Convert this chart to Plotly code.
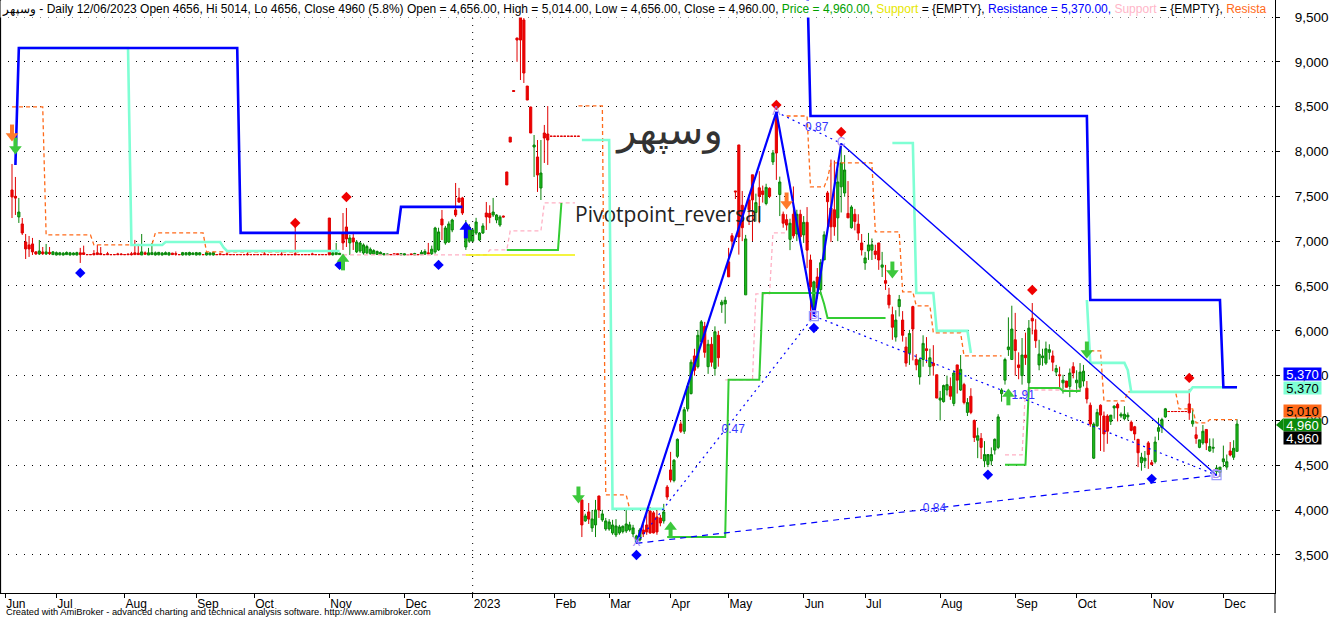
import plotly.graph_objects as go

SYMBOL = "وسپهر"
DATE = "12/06/2023"
STRATEGY = "Pivotpoint_reversal"

# ---------------- OHLC bars (open, high, low, close), one tuple per trading bar ----------------
bars_jun_2022 = [
    (7571,7861,7258,7493),(7500,7716,7292,7480),(7270,7482,7203,7325),(7192,7258,7069,7091),
    (6991,7080,6801,6913),(6958,7058,6824,6913),(6969,7036,6846,6880),(6880,6890,6846,6858),
    (6857,7013,6846,6890),(6880,6935,6846,6860),(6857,6969,6846,6880),(6875,6935,6846,6860),
    (6850,6890,6846,6880),
]
bars_jul_nov_2022 = [
    (6846,6885,6840,6872),(6848,6880,6842,6870),(6846,6878,6840,6866),(6850,6885,6846,6874),
    (6846,6880,6840,6870),(6848,6875,6842,6868),(6846,6882,6840,6872),(6870,6925,6757,6850),
    (6870,6950,6846,6852),(6850,6850,6850,6850),(6850,6850,6850,6850),(6862,6900,6840,6850),
    (6870,6960,6846,6850),(6862,6935,6846,6850),(6850,6850,6850,6850),(6860,6880,6846,6850),
    (6850,6850,6850,6850),(6850,6850,6850,6850),(6858,6870,6846,6850),(6856,6866,6846,6850),
    (6850,6850,6850,6850),(6856,6862,6846,6850),(6860,6880,6840,6850),(6870,7014,6846,6850),
    (6866,6970,6846,6850),(6846,7080,6846,6880),(6870,6885,6846,6855),(6846,6925,6846,6870),
    (6850,6980,6846,6872),(6846,6885,6840,6870),(6848,6880,6842,6875),(6846,6878,6840,6868),
    (6850,6885,6846,6872),(6846,6880,6840,6870),(6866,6870,6846,6850),(6860,6885,6838,6855),
    (6850,6850,6850,6850),(6846,6880,6840,6872),(6848,6878,6842,6870),(6846,6882,6840,6874),
    (6850,6876,6846,6868),(6846,6880,6840,6872),(6848,6878,6842,6870),(6850,6850,6850,6850),
    (6846,6880,6840,6872),(6848,6876,6842,6868),(6846,6882,6840,6874),(6850,6850,6850,6850),
    (6858,6866,6846,6850),(6850,6850,6850,6850),(6858,6870,6846,6850),(6850,6850,6850,6850),
    (6850,6850,6850,6850),(6850,6850,6850,6850),(6850,6850,6850,6850),(6850,6850,6850,6850),
    (6856,6875,6840,6850),(6850,6850,6850,6850),(6850,6850,6850,6850),(6850,6850,6850,6850),
    (6850,6850,6850,6850),(6858,6880,6846,6850),(6850,6850,6850,6850),(6850,6850,6850,6850),
    (6850,6850,6850,6850),(6850,6850,6850,6850),(6856,6878,6840,6850),(6850,6850,6850,6850),
    (6850,6850,6850,6850),(6850,6850,6850,6850),(6860,7180,6846,6848),(6850,6850,6850,6850),
    (6850,6850,6850,6850),(6850,6850,6850,6850),(6850,6850,6850,6850),(6858,6872,6846,6850),
    (6850,6850,6850,6850),(6850,6850,6850,6850),(6850,6850,6850,6850),(6850,6850,6850,6850),
]
bars_nov_dec_2022 = [
    (7258,7258,6846,6847),(6847,6880,6840,6870),(6850,6980,6846,6875),(6850,6870,6846,6865),
    (7092,7314,6902,6980),(7158,7370,6935,7025),(6980,7070,6846,7036),(7036,7103,6902,6991),
    (6880,7013,6868,6991),(6890,6990,6870,6980),(6868,6975,6850,6958),(6870,6960,6855,6940),
    (6860,6930,6850,6910),(6855,6910,6846,6895),(6852,6895,6846,6885),(6850,6885,6846,6875),
    (6847,6865,6845,6860),(6850,6860,6846,6855),(6850,6850,6850,6850),(6860,6860,6850,6850),
    (6860,6860,6850,6850),(6846,6862,6846,6860),(6846,6862,6846,6858),(6850,6850,6850,6850),
    (6858,6860,6846,6850),(6846,6870,6846,6862),(6850,6850,6850,6850),(6850,6900,6846,6875),
    (6855,6910,6850,6885),(6870,6980,6850,6860),(6860,6950,6846,6910),
]
bars_dec_2022_jan_2023 = [
    (6880,7160,6860,7147),(6902,7150,6890,7103),(7247,7348,7013,7180),(6980,7170,6960,7147),
    (6991,7220,6980,7192),(7125,7250,7100,7236),(7348,7649,7270,7292),(7482,7594,7426,7437),
    (7482,7494,7292,7314),(6935,7236,6902,7192),(7000,7190,6980,7158),(7000,7140,6990,7125),
    (7091,7260,7070,7214),(7013,7100,7000,7091),(7091,7200,7080,7170),(7314,7437,7125,7270),
    (7310,7400,7200,7265),(7292,7482,7270,7325),(7236,7300,7200,7292),(7180,7290,7160,7270),
    (7280,7285,7265,7270),(7772,7772,7627,7627),(8160,8160,8105,8105),(8680,8680,8670,8670),
    (9266,9266,9000,9243),(9500,9522,8797,9243),(9467,9489,8764,8875),(8730,8730,8574,8574),
    (8496,8500,8206,8206),(8050,8184,7716,8072),(7939,8128,7549,7738),(7593,8128,7459,7760),
    (8206,8296,7872,8150),(8195,8507,7850,8128),
]
bars_feb_2023_halt = [
    (8170,8170,8170,8170),(8170,8170,8170,8170),(8170,8170,8170,8170),(8170,8170,8170,8170),
    (8170,8170,8170,8170),(8170,8170,8170,8170),(8170,8170,8170,8170),(8170,8170,8170,8170),
    (8170,8170,8170,8170),
]
bars_feb_mar_2023 = [
    (4114,4114,3700,3835),(3880,3960,3870,3935),(3980,4080,3846,3900),(3802,4002,3757,3902),
    (3835,4114,3700,4002),(4158,4160,3913,4002),(3891,4003,3870,3958),(3790,3913,3770,3880),
    (3790,3900,3770,3868),(3746,3892,3725,3835),(3724,3900,3700,3824),(3746,3836,3725,3813),
    (3760,3830,3740,3820),(3768,4003,3746,3846),(3780,3870,3760,3836),(3735,3836,3700,3802),
    (3640,3725,3630,3713),(3667,3800,3650,3779),(3779,3846,3700,3735),(3835,4003,3725,3757),
    (3990,4035,3735,3746),(3970,3990,3740,3746),(3924,4003,3725,3757),(3913,3948,3820,3857),
    (3880,4070,3850,3980),(4258,4280,4115,4147),(4448,4650,4310,4337),
]
bars_apr_may_2023 = [
    (4330,4570,4310,4556),(4600,4800,4580,4790),(4960,4990,4860,4880),(4880,5150,4850,5120),
    (5130,5420,5100,5380),(5300,5680,5290,5650),(5720,5800,5500,5560),(5600,6010,5580,5950),
    (5880,6120,5860,6100),(6050,6100,5700,5760),(5600,5900,5520,5850),(5850,5930,5600,5650),
    (5580,6050,5500,5990),(5950,6000,5600,5700),
    (6290,6345,6200,6320),(6300,6380,6080,6340),(6769,6925,6602,6602),(7060,7090,6900,7000),
    (7560,7560,7470,7550),(8073,8073,6850,7047),(7400,7560,7000,7150),(6401,7070,6401,7025),
    (7460,7520,7180,7350),(7740,7740,7000,7460),(7320,7530,7220,7430),(7595,7780,7200,7500),
    (7560,7620,7430,7520),(7420,7640,7400,7600),(7590,7600,7480,7500),(7884,8017,7850,7984),
    (8385,8440,7683,7983),(7520,7720,7280,7660),(7300,7330,7150,7200),(7240,7300,7120,7180),
    (7020,7250,6900,7200),(7300,7610,7030,7060),(7080,7350,7000,7300),
]
bars_jun_2023 = [
    (7300,7350,6990,7050),(7070,7280,6980,7210),(7210,7380,6700,6900),(6790,6850,6120,6490),
    (6233,6560,6165,6546),(6600,6700,6360,6480),(6460,6800,6400,6760),(6791,7110,6790,7070),
    (7538,7560,7160,7440),(7370,7910,6990,7160),(7350,7900,7060,7160),(7260,7800,7000,7660),
    (7606,8090,7320,7873),(7537,7960,7495,7794),(7310,7670,7260,7260),(7150,7400,7140,7380),
    (7300,7360,7120,7220),(7190,7300,7010,7090),
]
bars_jul_oct_2023 = [
    (6980,7080,6840,6902),(6756,6880,6680,6813),(6891,7092,6791,6958),(6900,7030,6790,6960),
    (6890,6960,6800,6850),(6980,6980,6680,6790),(6710,6880,6600,6735),(6560,6735,6456,6530),
    (6400,6480,6250,6290),(6180,6270,5900,6040),(5930,6230,5880,6120),(6270,6400,6160,6350),
    (6120,6220,5880,5950),(5820,5930,5600,5640),(5750,6010,5620,5970),(6270,6280,5670,6020),
    (5680,5740,5560,5620),(5486,5700,5400,5676),(5680,5950,5600,5860),(5800,5930,5640,5780),
    (5600,5800,5500,5700),(5640,5840,5500,5610),(5510,5510,5250,5250),(5228,5330,5000,5250),
    (5210,5400,5200,5390),(5340,5500,5280,5400),(5380,5480,5230,5270),(5190,5560,5160,5530),
    (5620,5620,5300,5450),(5340,5730,5330,5570),(5400,5420,5180,5200),(5090,5250,5050,5200),
    (5270,5360,5070,5090),(5000,5010,4760,4810),(4780,4920,4580,4830),(4800,4860,4570,4700),
    (4550,4770,4480,4620),(4510,4590,4480,4620),(4550,4700,4500,4620),(4670,4800,4620,4790),
    (4700,5070,4680,5040),(5300,5360,5210,5340),(5450,5700,5400,5680),(5790,6150,5720,5820),
    (5680,6280,5680,6020),(5900,6200,5500,5780),(5620,5760,5460,5590),(5500,5920,5400,5730),
    (5730,5980,5620,5700),(5420,6120,5350,6030),(6140,6310,5960,6110),(6010,6130,5810,5890),
    (5620,5900,5560,5740),(5700,5800,5610,5720),(5640,5880,5620,5800),(5760,5850,5680,5790),
    (5720,5780,5550,5650),(5540,5620,5500,5580),(5510,5600,5370,5500),(5420,5510,5300,5450),
    (5440,5440,5370,5370),(5380,5580,5260,5530),(5600,5650,5470,5530),(5420,5560,5310,5450),
    (5370,5640,5320,5540),
]
bars_oct_dec_2023 = [
    (5440,5620,5380,5550),(5360,5440,5190,5240),(5170,5200,4930,4960),(4580,4980,4570,4960),
    (4940,5130,4930,5090),(5170,5180,4660,5060),(5050,5100,4650,4850),(5050,5070,4740,4880),
    (4990,5060,4950,5060),(5140,5170,5020,5160),(5180,5200,4990,5140),(5050,5090,5030,5070),
    (5020,5160,5000,5070),(5040,5090,5000,5060),(4980,5000,4880,4890),(4930,4940,4780,4850),
    (4790,4790,4480,4640),(4530,4640,4440,4590),(4550,4660,4470,4580),(4750,4770,4460,4620),
    (4530,4560,4500,4510),(4540,4820,4520,4760),(4880,5030,4780,4920),(4920,5030,4860,5010),
    (5040,5140,5030,5130),(5100,5100,5100,5100),(5100,5100,5100,5100),(5100,5100,5100,5100),
    (5100,5100,5100,5100),(5100,5100,5100,5100),(5100,5100,5100,5100),(5185,5352,5007,5085),
    (4963,5118,4930,4996),(4840,4930,4740,4800),(4700,4784,4690,4784),(4750,4950,4730,4880),
    (4900,4900,4670,4750),(4660,4800,4650,4710),(4690,4800,4640,4700),(4430,4500,4390,4470),
    (4420,4480,4370,4480),(4540,4720,4480,4572),(4480,4620,4450,4540),(4660,4760,4600,4615),
    (4590,4780,4560,4690),(4656,5014,4656,4960),
]

# ---------------- axis labels ----------------
month_first_bar = [-2, 13, 33, 54, 71, 93, 115, 135, 159, 175, 193, 210, 232, 250, 272, 294, 312, 334, 355]
month_labels = ["Jun","Jul","Aug","Sep","Oct","Nov","Dec","2023","Feb","Mar","Apr","May",
                "Jun","Jul","Aug","Sep","Oct","Nov","Dec"]
price_ticks = [3500, 4000, 4500, 5000, 5500, 6000, 6500, 7000, 7500, 8000, 8500, 9000, 9500]

# ---------------- indicator lines: (first bar, last bar, level) ----------------
resistance_blue = [(1,1,7850),(2,66,9155),(67,113,7092),(114,132,7382),(233,233,10000),
                   (234,315,8396),(316,354,6344),(355,359,5370)]
resistance_aqua = [(2,34,9155),(35,44,6958),(45,61,6991),(62,62,6930),(63,96,6891),
                   (167,175,8129),(176,191,4014),(258,264,8095),(265,270,6422),(271,280,5999),
                   (281,281,5753),(315,315,6344),(316,326,5642),(327,327,5560),(328,345,5319),
                   (346,359,5370)]
resistance_orange = [(0,9,8497),(10,23,7069),(24,41,6958),(42,56,7092),(57,84,6880),
                     (166,173,8508),(174,180,4170),(181,191,4014),(227,233,8396),(234,238,7605),
                     (239,239,7700),(240,252,7872),(253,260,7103),(261,264,6434),(265,269,6278),
                     (270,278,5977),(279,290,5720),(316,319,5776),(320,326,5218),(327,341,5319),
                     (342,346,5129),(347,350,4973),(351,359,5010)]
support_pink = [(97,139,6846),(140,145,6902),(146,155,7114),(156,165,7426),(209,217,5453),
                (218,222,6411),(223,227,7092),(291,296,4616),(297,313,5340)]
support_yellow = [(133,165,6846)]
support_green = [(145,160,6902),(161,161,7426),(192,209,3701),(210,219,5453),(220,237,6422),
                 (238,238,6300),(239,256,6144),(291,297,4505),(298,307,5363),(308,313,5330)]

# ---------------- harmonic pattern (bar, price) ----------------
pattern_names = ["X", "A", "B", "C", "D"]
pattern_bars = [183, 224, 235, 243, 353]
pattern_vals = [3630, 8440, 6165, 8090, 4390]
pattern_ratios = [("X", "B", "0.47"), ("A", "C", "0.87"), ("B", "D", "1.91"), ("X", "D", "0.84")]

# ---------------- signals ----------------
swing_high_bars = [83, 98, 224, 243, 299, 345]
swing_high_vals = [7203, 7493, 8519, 8218, 6456, 5475]
swing_low_bars = [20, 96, 125, 183, 235, 286, 334]
swing_low_vals = [6646, 6735, 6735, 3500, 6032, 4394, 4349]
buy_green_bars, buy_green_vals = [97, 193, 292], [6768, 3780, 5263]
buy_blue_bars, buy_blue_vals = [133], [7125]
sell_green_bars, sell_green_vals = [1, 166, 258, 315], [8062, 4170, 6679, 5787]
sell_orange_bars, sell_orange_vals = [0, 227], [8207, 7449]

# ======================================================================
bars = (bars_jun_2022 + bars_jul_nov_2022 + bars_nov_dec_2022 + bars_dec_2022_jan_2023 +
        bars_feb_2023_halt + bars_feb_mar_2023 + bars_apr_may_2023 + bars_jun_2023 +
        bars_jul_oct_2023 + bars_oct_dec_2023)
opens = [b[0] for b in bars]
highs = [b[1] for b in bars]
lows = [b[2] for b in bars]
closes = [b[3] for b in bars]
n = len(bars)
idx = list(range(n))

W, H = 1336, 619
PLOT_W, PLOT_H = 1275, 593
XR = [-3.52, 370.13]
YR = [3076.0, 9689.6]
UPP = (YR[1] - YR[0]) / PLOT_H   # price units per pixel
BPP = (XR[1] - XR[0]) / PLOT_W   # bars per pixel

def fx(px):
    return XR[0] + px * BPP

def fy(py):
    return YR[1] - py * UPP

def expand(segs):
    arr = [None] * n
    for s, e, v in segs:
        for i in range(s, e + 1):
            arr[i] = v
    return arr

FONT = "Liberation Sans"
fig = go.Figure()

# titles drawn beneath the candles
fig.add_trace(go.Scatter(x=[fx(670)], y=[fy(134)], mode="text", text=[SYMBOL],
                         textfont=dict(family="DejaVu Sans", size=40, color="#333333"),
                         textposition="middle center", hoverinfo="skip"))
fig.add_trace(go.Scatter(x=[fx(575)], y=[fy(217)], mode="text", text=[STRATEGY],
                         textfont=dict(family="Open Sans", size=21, color="#222222"),
                         textposition="middle right", hoverinfo="skip"))

up = [i for i in idx if closes[i] > opens[i]]
dn = [i for i in idx if closes[i] <= opens[i]]

def candle(sel, fill, line):
    style = dict(fillcolor=fill, line=dict(color=line, width=1))
    return go.Candlestick(x=sel, open=[opens[i] for i in sel], high=[highs[i] for i in sel],
                          low=[lows[i] for i in sel], close=[closes[i] for i in sel],
                          increasing=style, decreasing=style, whiskerwidth=0,
                          hoverinfo="skip", showlegend=False)

fig.add_trace(candle(dn, "#F00000", "#E00000"))
fig.add_trace(candle(up, "#1DBF1D", "#0A840A"))

def level_line(segs, color, width, dash=None):
    return go.Scatter(x=idx, y=expand(segs), mode="lines", connectgaps=False,
                      line=dict(color=color, width=width, dash=dash), hoverinfo="skip")

fig.add_trace(level_line(support_pink, "#FFB0C4", 1.3, "4px,3px"))
fig.add_trace(level_line(support_yellow, "#F0F000", 1.5))
fig.add_trace(level_line(resistance_orange, "#FF6A1A", 1.3, "4px,3px"))
fig.add_trace(level_line(support_green, "#33CC33", 2))
fig.add_trace(level_line(resistance_aqua, "#7FFFD4", 2.6))
fig.add_trace(level_line(resistance_blue, "#0000FF", 2.6))

# harmonic pattern
P = {nm: (b, v) for nm, b, v in zip(pattern_names, pattern_bars, pattern_vals)}
def seg(a, b, width, dash=None):
    return go.Scatter(x=[P[a][0], P[b][0]], y=[P[a][1], P[b][1]], mode="lines",
                      line=dict(color="#0000FF", width=width, dash=dash), hoverinfo="skip")
fig.add_trace(seg("X", "A", 2.2))
fig.add_trace(seg("A", "B", 2.2))
fig.add_trace(seg("B", "C", 2.2))
fig.add_trace(seg("C", "D", 1.4))
for a, b, r in pattern_ratios:
    fig.add_trace(seg(a, b, 1.2, "6px,5px" if (a, b) == ("X", "D") else "2px,4px"))
fig.add_trace(go.Scatter(
    x=[(P[a][0] + P[b][0]) / 2 + 8 * BPP for a, b, r in pattern_ratios],
    y=[(P[a][1] + P[b][1]) / 2 for a, b, r in pattern_ratios],
    text=[r for a, b, r in pattern_ratios], mode="text",
    textfont=dict(family=FONT, size=12, color="#3535FF"), hoverinfo="skip"))

# swing markers
fig.add_trace(go.Scatter(x=swing_high_bars, y=swing_high_vals, mode="markers",
                         marker=dict(symbol="diamond", size=8, color="#F00000"), hoverinfo="skip"))
fig.add_trace(go.Scatter(x=swing_low_bars, y=swing_low_vals, mode="markers",
                         marker=dict(symbol="diamond", size=8, color="#0000FF"), hoverinfo="skip"))

def arrows(bx, vals, color, direction):
    s = 1 if direction == "up" else -1
    head = go.Scatter(x=bx, y=[v + s * 3 * UPP for v in vals], mode="markers",
                      marker=dict(symbol="triangle-up" if s > 0 else "triangle-down",
                                  size=11, color=color, line=dict(width=0)), hoverinfo="skip")
    stem = go.Scatter(x=bx, y=[v - s * 3.5 * UPP for v in vals], mode="markers",
                      marker=dict(symbol="line-ns", size=7, line=dict(color=color, width=4)),
                      hoverinfo="skip")
    return [stem, head]

for t in (arrows(buy_green_bars, buy_green_vals, "#3CC83C", "up") +
          arrows(buy_blue_bars, buy_blue_vals, "#0000FF", "up") +
          arrows(sell_green_bars, sell_green_vals, "#3CC83C", "down") +
          arrows(sell_orange_bars, sell_orange_vals, "#FF7A2A", "down")):
    fig.add_trace(t)

# pattern point letters and boxes
fig.add_trace(go.Scatter(x=[P["B"][0], P["D"][0]], y=[P["B"][1], P["D"][1]], mode="markers",
                         marker=dict(symbol="square-open", size=9, color="#9A9AFF", line=dict(width=1.2)),
                         hoverinfo="skip"))
fig.add_trace(go.Scatter(x=pattern_bars, y=pattern_vals, text=pattern_names, mode="text",
                         textfont=dict(family=FONT, size=12, color="#A98CF5"), hoverinfo="skip"))

# ---------------- header / footer ----------------
last_o, last_h, last_l, last_c = bars[-1]
prev_c = closes[-2]
pct = (last_c - prev_c) / prev_c * 100
res_last = [v for v in expand(resistance_blue) if v is not None][-1]
aqua_last = [v for v in expand(resistance_aqua) if v is not None][-1]
orange_last = [v for v in expand(resistance_orange) if v is not None][-1]

header = (f"{SYMBOL} - Daily {DATE} Open {last_o}, Hi {last_h}, Lo {last_l}, Close {last_c} ({pct:.1f}%) "
          f"Open = {last_o:,.2f}, High = {last_h:,.2f}, Low = {last_l:,.2f}, Close = {last_c:,.2f}, "
          f"<span style='color:#00A000'>Price = {last_c:,.2f},</span> "
          f"<span style='color:#E6E600'>Support</span> = {{EMPTY}}, "
          f"<span style='color:#0000FF'>Resistance = {res_last:,.2f},</span> "
          f"<span style='color:#FFB6C8'>Support</span> = {{EMPTY}}, "
          f"<span style='color:#FF6A1A'>Resista</span>")

annotations = [
    dict(text=header, x=0, y=1, xref="paper", yref="paper", xanchor="left", yanchor="top",
         showarrow=False, bgcolor="white", borderpad=1,
         font=dict(family=FONT, size=12, color="black")),
    dict(text="Created with AmiBroker - advanced charting and technical analysis software. http://www.amibroker.com",
         x=4 / PLOT_W, y=(PLOT_H - 612) / PLOT_H, xref="paper", yref="paper", xanchor="left",
         yanchor="middle", showarrow=False, font=dict(family=FONT, size=9.3, color="black")),
]
value_tags = [(res_last, "#0000FF", "white", 13), (aqua_last, "#7FFFD4", "black", -1),
              (orange_last, "#FF6A1A", "black", 9), (last_c, "#0A8A0A", "white", -1),
              (last_c, "#000000", "white", -14)]
for v, bg, fg, shift in value_tags:
    annotations.append(dict(text=f"{v:,.0f}", x=1283 / PLOT_W, y=v, xref="paper", yref="y",
                            xanchor="left", yanchor="middle", yshift=shift, showarrow=False,
                            bgcolor=bg, width=37, height=12, borderpad=0, align="center",
                            font=dict(family=FONT, size=13, color=fg)))

shapes = [
    dict(type="line", xref="x", yref="paper", x0=month_first_bar[7], x1=month_first_bar[7], y0=0, y1=1,
         line=dict(color="black", width=1, dash="1px,6px")),
    dict(type="line", xref="paper", yref="paper", x0=0.0004, x1=0.0004, y0=0, y1=1,
         line=dict(color="black", width=1.2)),
    dict(type="line", xref="paper", yref="paper", x0=1, x1=1, y0=0, y1=(PLOT_H - 613) / PLOT_H,
         line=dict(color="black", width=1)),
    dict(type="path", xref="paper", yref="y",
         path=f"M {1276 / PLOT_W},{last_c - 1 * UPP} L {1283.5 / PLOT_W},{last_c + 6 * UPP} "
              f"L {1283.5 / PLOT_W},{last_c - 7 * UPP} Z",
         fillcolor="#0A8A0A", line=dict(width=0)),
]

fig.update_layout(
    width=W, height=H, margin=dict(l=0, r=W - PLOT_W, t=0, b=H - PLOT_H),
    paper_bgcolor="white", plot_bgcolor="white", showlegend=False,
    boxgap=0.1, annotations=annotations, shapes=shapes,
    xaxis=dict(range=XR, tickvals=month_first_bar, ticktext=month_labels, ticks="outside",
               ticklen=4, tickcolor="black", showline=True, linecolor="black", linewidth=1,
               showgrid=False, zeroline=False, ticklabelposition="outside right",
               ticklabelstandoff=0,
               tickfont=dict(family=FONT, size=12, color="black"), rangeslider=dict(visible=False),
               fixedrange=True),
    yaxis=dict(range=YR, side="right", tickvals=price_ticks, ticktext=[f"{t:,}" for t in price_ticks],
               ticks="outside", ticklen=4, tickcolor="black", showline=True, linecolor="black",
               linewidth=1, showgrid=True, gridcolor="black", gridwidth=1, griddash="1px,7px",
               zeroline=False, ticklabelstandoff=12,
               tickfont=dict(family=FONT, size=13.5, color="black"), fixedrange=True),
)

fig.write_html("out.html", config={"displayModeBar": False},
               post_script="document.body.style.margin='0';document.body.style.overflow='hidden';")
